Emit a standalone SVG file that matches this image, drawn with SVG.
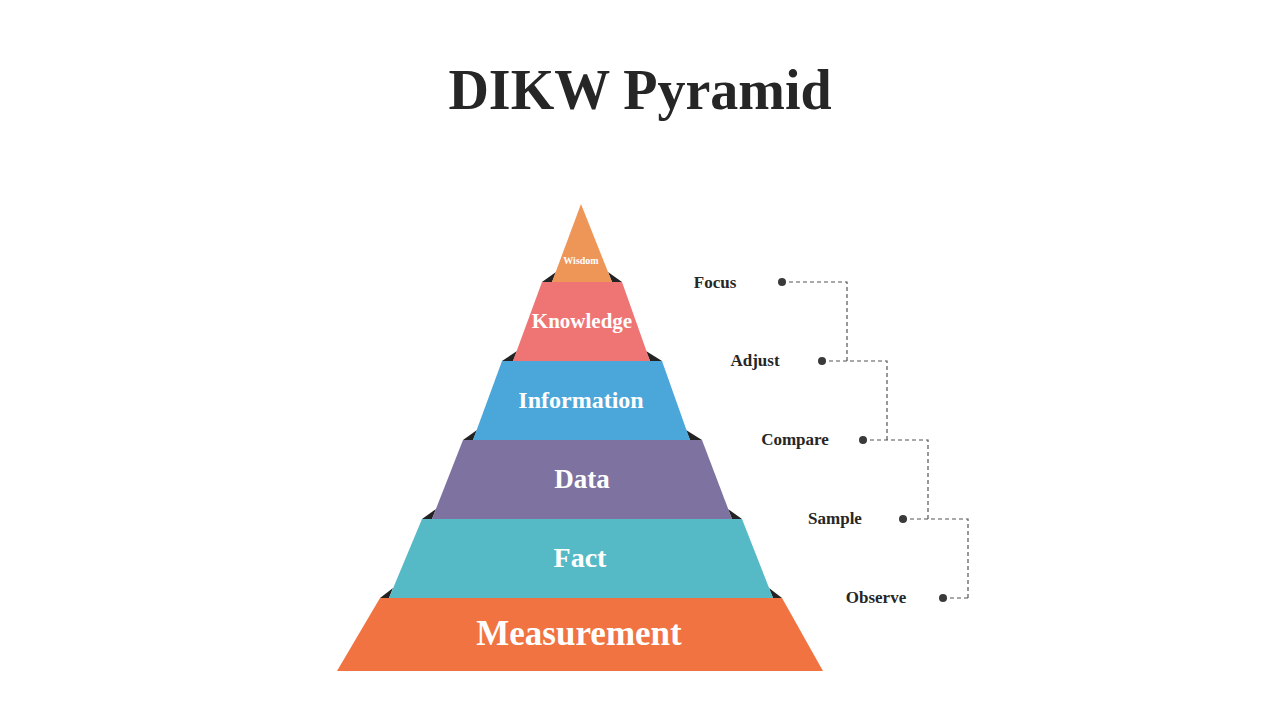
<svg xmlns="http://www.w3.org/2000/svg" width="1280" height="720" viewBox="0 0 1280 720">
<style>
.title{font-family:"Liberation Serif","DejaVu Serif",serif;font-weight:bold;font-size:56px;fill:#262626;text-anchor:middle}
.lbl{font-family:"Liberation Serif","DejaVu Serif",serif;font-weight:bold;fill:#ffffff;text-anchor:middle}
.side{font-family:"Liberation Serif","DejaVu Serif",serif;font-weight:bold;font-size:17px;fill:#262626;text-anchor:middle}
.shadow{fill:#232323}
.conn{fill:none;stroke:#555555;stroke-width:1.2;stroke-dasharray:4 3}
.dot{fill:#3a3a3a}
</style>
<rect width="1280" height="720" fill="#ffffff"/>
<text class="title" x="640" y="109">DIKW Pyramid</text>

<g id="shadows">
<polygon class="shadow" points="542,282 552,282 556,272"/>
<polygon class="shadow" points="622,282 612,282 608,272"/>
<polygon class="shadow" points="502,361 513,361 517,351"/>
<polygon class="shadow" points="662,361 650,361 646,351"/>
<polygon class="shadow" points="463,440 473,440 477,430"/>
<polygon class="shadow" points="702,440 690,440 686,430"/>
<polygon class="shadow" points="422,519 432,519 436,509"/>
<polygon class="shadow" points="742,519 732,519 728,509"/>
<polygon class="shadow" points="380,598 389,598 393,588"/>
<polygon class="shadow" points="782,598 773,598 769,588"/>
</g>

<g id="wisdom">
<polygon points="581,204 612,282 552,282" fill="#EE9558"/>
<text class="lbl" x="581" y="264" font-size="10">Wisdom</text>
</g>
<g id="knowledge">
<polygon points="542,282 622,282 650,361 513,361" fill="#EF7575"/>
<text class="lbl" x="582" y="328" font-size="21">Knowledge</text>
</g>
<g id="information">
<polygon points="502,361 662,361 690,440 473,440" fill="#4BA6D9"/>
<text class="lbl" x="581" y="408" font-size="24">Information</text>
</g>
<g id="data">
<polygon points="463,440 702,440 732,519 432,519" fill="#7E72A0"/>
<text class="lbl" x="582" y="488" font-size="27">Data</text>
</g>
<g id="fact">
<polygon points="422,519 742,519 773,598 389,598" fill="#55BAC6"/>
<text class="lbl" x="580" y="567" font-size="28">Fact</text>
</g>
<g id="measurement">
<polygon points="380,598 782,598 823,671 337,671" fill="#F07341"/>
<text class="lbl" x="579" y="645" font-size="35">Measurement</text>
</g>

<g id="connectors">
<path class="conn" d="M782,282 H847 V361"/>
<path class="conn" d="M822,361 H887 V440"/>
<path class="conn" d="M863,440 H928 V519"/>
<path class="conn" d="M903,519 H968 V598"/>
<path class="conn" d="M943,598 H968"/>
</g>

<g id="focus">
<circle class="dot" cx="782" cy="282" r="4"/>
<text class="side" x="715" y="288">Focus</text>
</g>
<g id="adjust">
<circle class="dot" cx="822" cy="361" r="4"/>
<text class="side" x="755" y="366">Adjust</text>
</g>
<g id="compare">
<circle class="dot" cx="863" cy="440" r="4"/>
<text class="side" x="795" y="445">Compare</text>
</g>
<g id="sample">
<circle class="dot" cx="903" cy="519" r="4"/>
<text class="side" x="835" y="524">Sample</text>
</g>
<g id="observe">
<circle class="dot" cx="943" cy="598" r="4"/>
<text class="side" x="876" y="603">Observe</text>
</g>
</svg>
